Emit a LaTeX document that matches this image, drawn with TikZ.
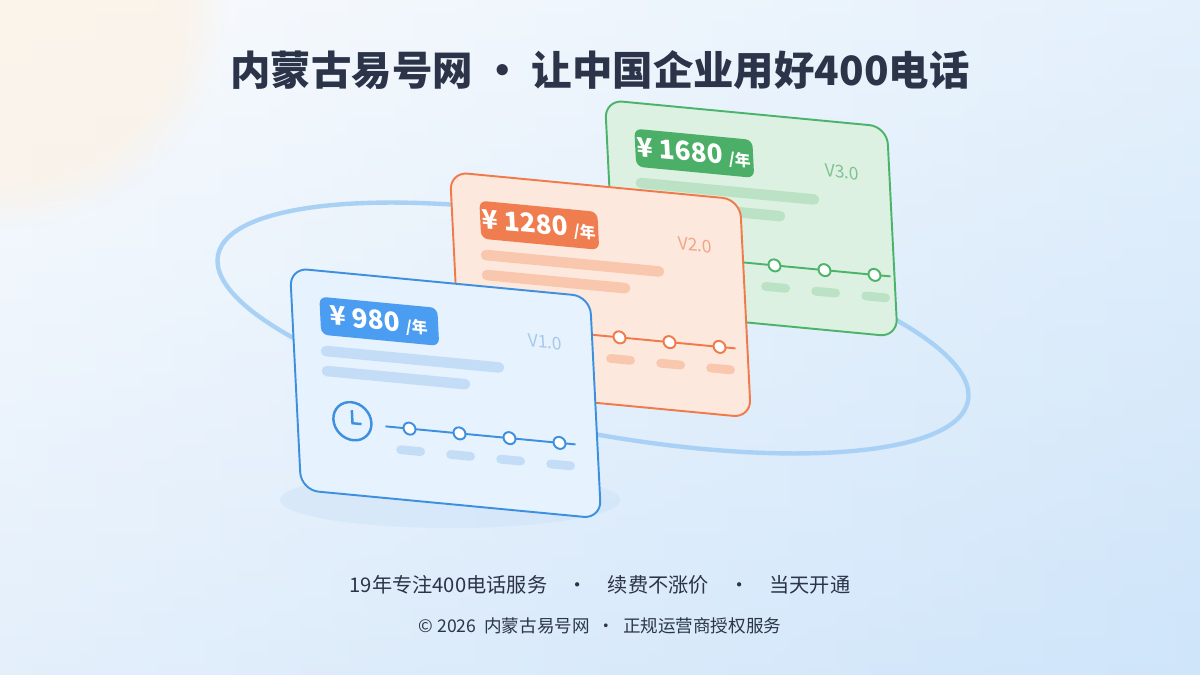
\documentclass[tikz,border=0pt]{standalone}
\usepackage{fontspec}
\setmainfont{Noto Sans CJK SC}
\usetikzlibrary{positioning,fadings}
\definecolor{ink}{HTML}{2B3448}
\definecolor{ring}{HTML}{A9D1F5}
\definecolor{bgTop}{HTML}{F5F8FC}\definecolor{bgBot}{HTML}{CFE5FA}\definecolor{bgWarm}{HTML}{FDF0E0}
\definecolor{bMain}{HTML}{3D8FE0}\definecolor{bFill}{HTML}{E6F2FD}\definecolor{bBar}{HTML}{C4DDF6}\definecolor{bBadge}{HTML}{4A9DF0}\definecolor{bVer}{HTML}{A8C8EA}
\definecolor{oMain}{HTML}{F07A4A}\definecolor{oFill}{HTML}{FDE8DD}\definecolor{oBar}{HTML}{F9C6AE}\definecolor{oBadge}{HTML}{F07D50}\definecolor{oVer}{HTML}{F2A585}
\definecolor{gMain}{HTML}{4CB36A}\definecolor{gFill}{HTML}{DDF1E2}\definecolor{gBar}{HTML}{BCE2C5}\definecolor{gBadge}{HTML}{4CAF68}\definecolor{gVer}{HTML}{7FC293}

% card: name, origin, width, height, colour prefix, price, version
\newcommand{\pricecard}[7]{%
  \begin{scope}[shift={#2}, cm={1,-0.095,-0.05,1,(0,0)}, transform shape]
    \draw[#5Main, line width=1.1pt, fill=#5Fill, rounded corners=10] (0,0) rectangle (#3,#4);
    \fill[#5Badge, rounded corners=4] (28,26) rectangle (146,64);
    \node[text=white, font=\bfseries\fontsize{15}{15}\selectfont] (#1-price) at (87,45) {¥ #6 {\fontsize{9}{9}\selectfont /年}};
    \node[text=#5Ver, font=\fontsize{10}{10}\selectfont, anchor=east] (#1-ver) at (#3-24,50) {#7};
    \draw[#5Bar, line width=6pt, line cap=round] (32,80) -- (205,80);
    \draw[#5Bar, line width=6pt, line cap=round] (32,100) -- (170,100);
    \draw[#5Main, line width=1.4pt] (55,148) circle (19);
    \draw[#5Main, line width=1.4pt] (55,137) -- (55,150) -- (64,150);
    \draw[#5Main, line width=1.1pt] (88,150) -- (278,150);
    \foreach \u in {112,162,212,262}{
      \draw[#5Main, line width=1.1pt, fill=white] (\u,150) circle (6);
      \draw[#5Bar, line width=5pt, line cap=round] (\u-10,172) -- (\u+10,172);
    }
  \end{scope}}

\begin{document}
\begin{tikzpicture}[x=0.02cm, y=-0.02cm]
\useasboundingbox (0,0) rectangle (1200,675);
% background
\shade[left color=bgTop, right color=bgBot] (0,0) rectangle (1200,675);
\shade[top color=white, bottom color=bgBot, opacity=0.45] (0,0) rectangle (1200,675);
\fill[bgWarm, opacity=0.6, path fading=circle with fuzzy edge 20 percent] (0,0) circle (230);
% ring and shadow
\fill[bBar, opacity=0.35] (450,500) ellipse (170 and 28);
\draw[ring, line width=2.5pt, rotate around={-11:(593,328)}] (593,328) ellipse (382 and 104);
% cards
\pricecard{v3}{(605,100)}{282}{210}{g}{1680}{V3.0}
\pricecard{v2}{(450,172)}{290}{218}{o}{1280}{V2.0}
\pricecard{v1}{(290,268)}{300}{222}{b}{980}{V1.0}
% texts
\node[text=ink, font=\bfseries\fontsize{23}{23}\selectfont] (title) at (600,70) {内蒙古易号网 · 让中国企业用好400电话};
\node[text=ink, font=\fontsize{11.5}{11.5}\selectfont] (slogan) at (600,585) {19年专注400电话服务\quad·\quad 续费不涨价\quad·\quad 当天开通};
\node[text=ink, font=\fontsize{10}{10}\selectfont, below=6pt of slogan] (foot) {© 2026\ \ 内蒙古易号网\ \ ·\ \ 正规运营商授权服务};
\end{tikzpicture}
\end{document}
